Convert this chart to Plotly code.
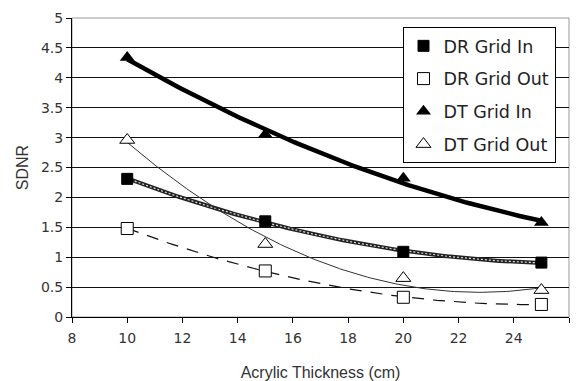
import numpy as np
import plotly.graph_objects as go

thickness = [10, 15, 20, 25]
dr_grid_in = [2.31, 1.60, 1.09, 0.91]
dr_grid_out = [1.48, 0.77, 0.33, 0.21]
dt_grid_in = [4.34, 3.05, 2.32, 1.58]
dt_grid_out = [2.96, 1.22, 0.65, 0.45]

x_ticks = [8, 10, 12, 14, 16, 18, 20, 22, 24, 26]
y_ticks = [0, 0.5, 1, 1.5, 2, 2.5, 3, 3.5, 4, 4.5, 5]

xs = np.linspace(10, 25, 120)


def trend(y):
    c = np.polyfit(thickness, y, 2)
    return np.polyval(c, xs)


fig = go.Figure()

# trend lines
fig.add_trace(go.Scatter(x=xs, y=trend(dt_grid_in), mode="lines",
                         line=dict(color="black", width=4.5), showlegend=False, hoverinfo="skip"))
fig.add_trace(go.Scatter(x=xs, y=trend(dr_grid_in), mode="lines",
                         line=dict(color="#222", width=4), showlegend=False, hoverinfo="skip"))
fig.add_trace(go.Scatter(x=xs, y=trend(dr_grid_in), mode="lines",
                         line=dict(color="#ddd", width=1.2, dash="2px,2px"), showlegend=False, hoverinfo="skip"))
fig.add_trace(go.Scatter(x=xs, y=trend(dt_grid_out), mode="lines",
                         line=dict(color="#333", width=1), showlegend=False, hoverinfo="skip"))
fig.add_trace(go.Scatter(x=xs, y=trend(dr_grid_out), mode="lines",
                         line=dict(color="#111", width=1.2, dash="12px,9px"), showlegend=False, hoverinfo="skip"))

# data markers
fig.add_trace(go.Scatter(x=thickness, y=dr_grid_in, mode="markers", name="DR Grid In", legendgroup="a",
                         marker=dict(symbol="square", size=11, color="black", line=dict(color="black", width=1))))
fig.add_trace(go.Scatter(x=thickness, y=dr_grid_out, mode="markers", name="DR Grid Out", legendgroup="b",
                         marker=dict(symbol="square", size=12, color="white", line=dict(color="black", width=1))))
fig.add_trace(go.Scatter(x=thickness, y=dt_grid_in, mode="markers", name="DT Grid In", legendgroup="c",
                         marker=dict(symbol="triangle-up", size=13, color="black")))
fig.add_trace(go.Scatter(x=thickness, y=dt_grid_out, mode="markers", name="DT Grid Out", legendgroup="d",
                         marker=dict(symbol="triangle-up", size=13, color="white", line=dict(color="black", width=1))))

tick_font = dict(family="DejaVu Sans, sans-serif", size=14, color="#333")
title_font = dict(family="Liberation Sans, Arial, sans-serif", size=16, color="#333")

fig.update_layout(
    width=576, height=381,
    margin=dict(l=72, r=7, t=18, b=64),
    paper_bgcolor="white", plot_bgcolor="white",
    font=dict(family="Liberation Sans, Arial, sans-serif", size=13, color="#222"),
    legend=dict(x=0.665, y=0.97, xanchor="left", yanchor="top",
                bordercolor="black", borderwidth=1, bgcolor="white",
                font=dict(family="DejaVu Sans, sans-serif", size=17.5, color="#222"),
                tracegroupgap=7, itemwidth=30),
    xaxis=dict(range=[8, 26], tickvals=x_ticks, showgrid=False, zeroline=False,
               showline=True, linecolor="black", linewidth=1, ticks="outside", ticklen=5,
               tickcolor="black", tickfont=tick_font, ticklabelstandoff=3, automargin=False,
               title=dict(text="Acrylic Thickness (cm)", standoff=22, font=title_font)),
    yaxis=dict(range=[0, 5], tickvals=y_ticks, ticktext=[("%g" % v) for v in y_ticks],
               showgrid=True, gridcolor="#111", gridwidth=1, zeroline=False,
               showline=True, linecolor="black", linewidth=1, ticks="outside", ticklen=5,
               tickcolor="black", tickfont=tick_font, automargin=False,
               title=dict(text="SDNR", standoff=8, font=title_font)),
    shapes=[dict(type="rect", xref="paper", yref="paper", x0=0, x1=1, y0=0, y1=1,
                 line=dict(color="#999", width=1), layer="below")],
)

fig.write_html("out.html")
